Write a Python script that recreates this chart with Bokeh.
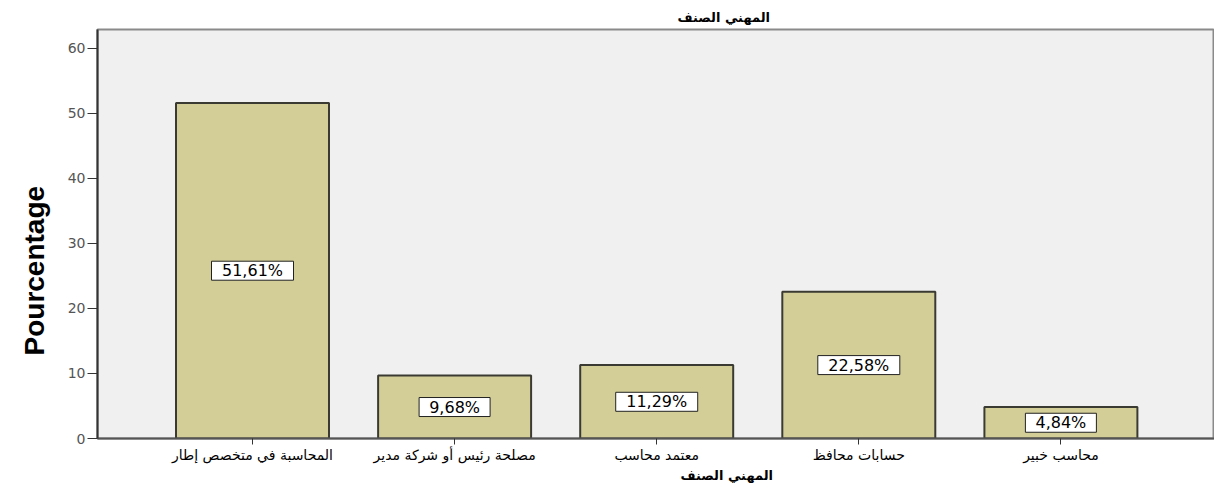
from bokeh.plotting import figure
from bokeh.models import Range1d, FixedTicker, ColumnDataSource, Title
from bokeh.core.properties import value
from bokeh.embed import file_html
from bokeh.resources import INLINE

# data (Arabic words written in the order in which they appear in the reference)
categories = ["المحاسبة في متخصص إطار", "مصلحة رئيس أو شركة مدير", "معتمد محاسب", "حسابات محافظ", "محاسب خبير"]
percentages = [51.61, 9.68, 11.29, 22.58, 4.84]
y_ticks = [0, 10, 20, 30, 40, 50, 60]
title_text = "المهني الصنف"
y_label = "Pourcentage"

xs = list(range(len(categories)))
lbls = [(f"{v:.2f}".replace(".", ",") + "%") for v in percentages]
src = ColumnDataSource(dict(
    x=xs,
    top=percentages,
    mid=[v / 2 for v in percentages],
    lbl=lbls,
    boxw=[11 * len(s) + 16 for s in lbls],
))

p = figure(width=1214, height=487, output_backend="svg", toolbar_location=None,
           x_range=Range1d(-0.767, 4.76), y_range=Range1d(0, 62.9),
           min_border_left=97, min_border_right=0, min_border_top=29, min_border_bottom=49)

p.add_layout(Title(text=title_text, align="left", offset=580, standoff=10,
                   text_font="DejaVu Sans", text_font_size="13px", text_font_style="bold",
                   text_color="#000000"), "above")

p.background_fill_color = "#f0f0f0"
p.border_fill_color = "white"
p.outline_line_color = "#8a8a8a"
p.outline_line_width = 2
p.xgrid.visible = False
p.ygrid.visible = False

p.vbar(x="x", top="top", width=0.757, bottom=0, source=src,
       fill_color="#d3ce97", line_color="#3a3a32", line_width=2)

p.rect(x="x", y="mid", width="boxw", height=19, width_units="screen", height_units="screen",
       source=src, fill_color="white", line_color="#222222", line_width=1)
p.text(x="x", y="mid", text="lbl", source=src, text_align="center", text_baseline="middle",
       text_font=value("DejaVu Sans"), text_font_size="16px", text_color="#000000")

# y axis
p.yaxis.ticker = FixedTicker(ticks=y_ticks)
p.yaxis.minor_tick_line_color = None
p.yaxis.major_tick_out = 10
p.yaxis.major_tick_in = 0
p.yaxis.major_tick_line_color = "#333333"
p.yaxis.axis_line_color = "#333333"
p.yaxis.axis_line_width = 2
p.yaxis.major_label_text_font = "DejaVu Sans"
p.yaxis.major_label_text_font_size = "14px"
p.yaxis.major_label_text_color = "#555555"
p.yaxis.major_label_standoff = 2

p.add_layout(Title(text=y_label, align="left", offset=83, standoff=30,
                   text_font="Liberation Sans", text_font_size="28px", text_font_style="bold",
                   text_color="#000000"), "left")

# x axis
p.xaxis.ticker = FixedTicker(ticks=xs)
p.xaxis.major_label_overrides = {i: c for i, c in zip(xs, categories)}
p.xaxis.minor_tick_line_color = None
p.xaxis.major_tick_out = 6
p.xaxis.major_tick_in = 0
p.xaxis.major_tick_line_color = "#333333"
p.xaxis.axis_line_color = "#555555"
p.xaxis.axis_line_width = 2
p.xaxis.major_label_text_font = "DejaVu Sans"
p.xaxis.major_label_text_font_size = "14px"
p.xaxis.major_label_text_color = "#000000"
p.xaxis.major_label_standoff = 2

p.add_layout(Title(text=title_text, align="left", offset=583, standoff=0,
                   text_font="DejaVu Sans", text_font_size="13px", text_font_style="bold",
                   text_color="#000000"), "below")

open("out.html", "w").write(file_html(p, INLINE))
